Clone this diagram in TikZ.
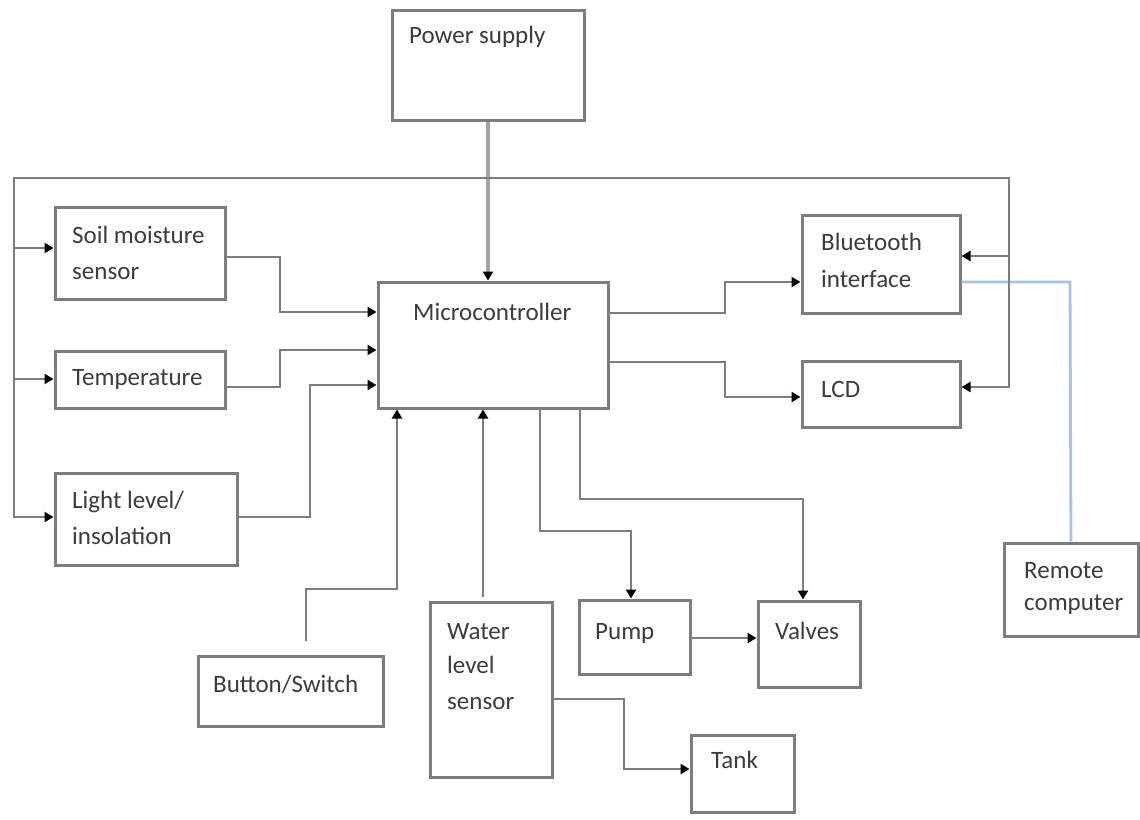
\documentclass[tikz,border=0pt]{standalone}
\usepackage{fontspec}
\setmainfont{Carlito}
\usetikzlibrary{arrows.meta}
\definecolor{lg}{RGB}{125,125,125}
\definecolor{pg}{RGB}{165,165,165}
\definecolor{bl}{RGB}{168,195,226}
\definecolor{tx}{RGB}{60,60,60}
\begin{document}
\begin{tikzpicture}[x=1pt,y=-1pt,
  box/.style={draw=lg,line width=3pt,inner sep=0pt,rectangle},
  txt/.style={anchor=base west,inner sep=0pt,text=tx,font=\fontsize{25}{30}\selectfont},
  conn/.style={draw=lg,line width=2.8pt,-{Triangle[length=9pt,width=10pt,color=black]}},
  pconn/.style={draw=pg,line width=4pt,-{Triangle[length=9pt,width=10pt,color=black]}},
  bothconn/.style={draw=lg,line width=2.8pt,{Triangle[length=9pt,width=10pt,color=black]}-{Triangle[length=9pt,width=10pt,color=black]}},
  blue/.style={draw=bl,line width=2.8pt}]
\fill[white] (0,0) rectangle (1140,819);
\useasboundingbox (0,0) rectangle (1140,819);

% boxes
\node[box,minimum width=192pt,minimum height=110pt] (ps) at (488,65) {};
\node[box,minimum width=230pt,minimum height=126pt] (mc) at (493,345) {};
\node[box,minimum width=170pt,minimum height=92pt] (soil) at (140,253) {};
\node[box,minimum width=170pt,minimum height=57pt] (temp) at (140,379.5) {};
\node[box,minimum width=182pt,minimum height=92pt] (light) at (146,519) {};
\node[box,minimum width=158pt,minimum height=98pt] (bt) at (881,264) {};
\node[box,minimum width=158pt,minimum height=66pt] (lcd) at (881,394) {};
\node[box,minimum width=134pt,minimum height=93pt] (rc) at (1071,589.5) {};
\node[box,minimum width=185pt,minimum height=70pt] (btn) at (290.5,691) {};
\node[box,minimum width=122pt,minimum height=175pt] (water) at (491,689.5) {};
\node[box,minimum width=111pt,minimum height=74pt] (pump) at (634.5,637) {};
\node[box,minimum width=102pt,minimum height=86pt] (valves) at (809,644) {};
\node[box,minimum width=103pt,minimum height=77pt] (tank) at (742.5,773.5) {};

% texts
\node[txt] (psT) at (409,43) {Power supply};
\node[txt] (mcT) at (413,320) {Microcontroller};
\node[txt] (soilT1) at (72,243) {Soil moisture};
\node[txt] (soilT2) at (72,279) {sensor};
\node[txt] (tempT) at (72,385) {Temperature};
\node[txt] (lightT1) at (72,508) {Light level/};
\node[txt] (lightT2) at (72,544) {insolation};
\node[txt] (btT1) at (821,250) {Bluetooth};
\node[txt] (btT2) at (821,287) {interface};
\node[txt] (lcdT) at (821,397) {LCD};
\node[txt] (rcT1) at (1024,578) {Remote};
\node[txt] (rcT2) at (1024,610) {computer};
\node[txt] (btnT) at (213,692) {Button/Switch};
\node[txt] (waterT1) at (447,639) {Water};
\node[txt] (waterT2) at (447,673) {level};
\node[txt] (waterT3) at (447,709) {sensor};
\node[txt] (pumpT) at (595,639) {Pump};
\node[txt] (valvesT) at (775,639) {Valves};
\node[txt] (tankT) at (711,768) {Tank};

% bus coordinates
\coordinate (busL) at (14,178);
\coordinate (busR) at (1009,178);

% blue link
\draw[blue] (bt.east|-0,282) -- (1070,282) -- (rc.north);

% power
\draw[pconn] (ps.south) -- (ps.south|-mc.north);

% feedback bus
\draw[bothconn] (lcd.east|-0,387) -- (busR|-0,387) -- (busR) -- (busL) -- (busL|-0,517) -- (light.west|-0,517);
\draw[conn] (busR|-0,256) -- (bt.east|-0,256);
\draw[conn] (busL|-0,248) -- (soil.west|-0,248);
\draw[conn] (busL|-0,379) -- (temp.west|-0,379);

% sensors to MC
\draw[conn] (soil.east|-0,257) -- (280,257) -- (280,312) -- (mc.west|-0,312);
\draw[conn] (temp.east|-0,387) -- (280,387) -- (280,350) -- (mc.west|-0,350);
\draw[conn] (light.east|-0,517) -- (310,517) -- (310,385) -- (mc.west|-0,385);

% MC to outputs
\draw[conn] (mc.east|-0,313) -- (725,313) -- (725,282) -- (bt.west|-0,282);
\draw[conn] (mc.east|-0,362) -- (725,362) -- (725,397) -- (lcd.west|-0,397);

% bottom
\draw[conn] ([xshift=15.5pt,yshift=14pt]btn.north) -- (306,589) -- (397,589) -- (mc.south-|397,0);
\draw[conn] ([yshift=4pt]water.north-|483,0) -- (mc.south-|483,0);
\draw[conn] (mc.south-|540,0) -- (540,531) -- (631,531) -- (pump.north-|631,0);
\draw[conn] (mc.south-|580,0) -- (580,499) -- (803,499) -- (valves.north-|803,0);
\draw[conn] (pump.east|-0,638) -- (valves.west|-0,638);
\draw[conn] (water.east|-0,699) -- (624,699) -- (624,769) -- (tank.west|-0,769);
\end{tikzpicture}
\end{document}
